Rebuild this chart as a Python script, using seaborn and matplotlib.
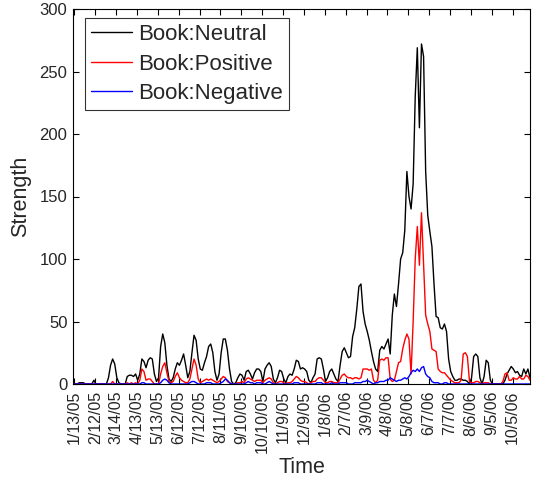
import numpy as np
import pandas as pd
import matplotlib
matplotlib.use("Agg")
import matplotlib.pyplot as plt
import seaborn as sns

start_date = "2005-01-11"
step = "3D"

neutral = [0, 0, 0, 1, 1, 1, 0, 0, 0, 0,
           3, 0, 0, 0, 0, 0, 0, 5, 15, 20,
           16, 5, 1, 0, 0, 0, 6, 7, 7, 6,
           8, 3, 8, 20, 18, 13, 19, 21, 20, 8,
           2, 5, 30, 40, 33, 15, 4, 2, 5, 12,
           17, 15, 19, 24, 15, 5, 10, 25, 39, 35,
           20, 12, 11, 17, 22, 30, 32, 25, 10, 3,
           8, 25, 36, 36, 27, 12, 2, 0, 1, 5,
           8, 7, 3, 10, 11, 8, 4, 9, 12, 12,
           10, 2, 12, 15, 17, 14, 4, 1, 5, 11,
           10, 4, 1, 6, 8, 7, 12, 19, 18, 12,
           13, 12, 10, 3, 1, 5, 8, 20, 21, 20,
           12, 2, 5, 10, 12, 8, 4, 2, 15, 26,
           29, 25, 21, 22, 38, 45, 60, 78, 80, 58,
           48, 42, 35, 26, 18, 12, 10, 27, 30, 28,
           32, 36, 24, 55, 72, 62, 80, 100, 105, 123,
           170, 150, 140, 160, 230, 269, 205, 272, 262, 170,
           135, 122, 110, 80, 54, 53, 45, 44, 48, 42,
           20, 10, 6, 3, 3, 4, 4, 3, 3, 2,
           0, 5, 22, 24, 22, 5, 0, 6, 19, 17,
           3, 0, 0, 0, 0, 0, 0, 3, 8, 11,
           14, 12, 9, 10, 7, 6, 12, 8, 12, 5]

positive = [0, 0, 0, 0, 0, 0, 0, 0, 0, 0,
            0, 0, 0, 0, 0, 0, 0, 0, 0, 2,
            0, 0, 0, 0, 0, 0, 1, 0, 1, 0,
            1, 0, 3, 12, 10, 3, 4, 4, 2, 0,
            0, 0, 8, 14, 17, 9, 2, 1, 2, 6,
            9, 5, 3, 2, 1, 1, 4, 12, 20, 15,
            4, 1, 2, 3, 4, 3, 4, 3, 2, 1,
            2, 4, 6, 5, 2, 1, 0, 0, 0, 1,
            1, 2, 1, 4, 5, 4, 3, 2, 3, 3,
            3, 1, 3, 4, 5, 4, 1, 0, 1, 2,
            2, 1, 0, 1, 1, 2, 4, 6, 5, 3,
            2, 2, 1, 0, 1, 2, 2, 4, 5, 5,
            3, 1, 1, 2, 2, 1, 1, 1, 4, 7,
            8, 6, 5, 5, 4, 5, 5, 4, 5, 12,
            12, 12, 11, 12, 3, 1, 3, 19, 20, 19,
            21, 21, 4, 2, 3, 10, 17, 18, 28, 35,
            40, 36, 8, 50, 100, 126, 95, 137, 95, 55,
            48, 42, 28, 27, 26, 12, 10, 9, 9, 7,
            5, 3, 2, 1, 1, 1, 3, 24, 25, 22,
            2, 1, 1, 2, 2, 1, 0, 1, 1, 1,
            0, 0, 0, 0, 0, 0, 2, 8, 9, 3,
            3, 5, 4, 4, 6, 4, 4, 7, 6, 3]

negative = [0, 0, 0, 0, 0, 0, 0, 0, 0, 0,
            0, 0, 0, 0, 0, 0, 0, 0, 0, 0,
            0, 0, 0, 0, 0, 0, 0, 0, 0, 0,
            0, 0, 0, 1, 1, 0, 0, 0, 0, 0,
            0, 0, 1, 3, 4, 3, 1, 0, 0, 0,
            0, 0, 0, 0, 0, 0, 1, 2, 2, 1,
            0, 0, 0, 0, 1, 1, 1, 0, 0, 0,
            0, 1, 2, 4, 3, 1, 0, 0, 0, 0,
            0, 0, 0, 1, 2, 1, 1, 0, 1, 1,
            1, 0, 0, 1, 2, 1, 0, 0, 0, 0,
            0, 0, 0, 0, 0, 0, 1, 1, 1, 0,
            0, 0, 0, 0, 0, 0, 0, 1, 1, 1,
            0, 0, 0, 0, 1, 0, 0, 0, 1, 1,
            1, 1, 0, 0, 0, 1, 1, 1, 1, 2,
            2, 3, 2, 1, 0, 1, 1, 2, 2, 2,
            3, 3, 5, 4, 3, 2, 3, 3, 4, 5,
            4, 6, 9, 11, 10, 12, 10, 13, 14, 8,
            6, 5, 2, 1, 1, 1, 0, 0, 1, 1,
            0, 0, 0, 0, 0, 0, 0, 0, 0, 0,
            0, 0, 0, 0, 0, 0, 0, 0, 0, 0,
            0, 0, 0, 0, 0, 0, 0, 0, 0, 0,
            0, 0, 0, 0, 0, 0, 0, 0, 0, 0]

series_names = ["Book:Neutral", "Book:Positive", "Book:Negative"]
series_colors = ["#000000", "#ff0000", "#0000ff"]

tick_labels = ["1/13/05", "2/12/05", "3/14/05", "4/13/05", "5/13/05", "6/12/05",
               "7/12/05", "8/11/05", "9/10/05", "10/10/05", "11/9/05", "12/9/05",
               "1/8/06", "2/7/06", "3/9/06", "4/8/06", "5/8/06", "6/7/06",
               "7/7/06", "8/6/06", "9/5/06", "10/5/06"]

y_ticks = [0, 50, 100, 150, 200, 250, 300]

# ---- build table ----
dates = pd.date_range(start_date, periods=len(neutral), freq=step)
frames = []
for name, vals in zip(series_names, [neutral, positive, negative]):
    frames.append(pd.DataFrame({"Time": dates, "Strength": vals, "Series": name}))
df = pd.concat(frames, ignore_index=True)

sns.set_style("white")
plt.rcParams["font.family"] = ["Liberation Sans", "DejaVu Sans"]

fig = plt.figure(figsize=(5.38, 4.83), dpi=100)
ax = fig.add_axes([73 / 538, 1 - 384 / 483, 457 / 538, 375 / 483])

sns.lineplot(data=df, x="Time", y="Strength", hue="Series",
             palette=dict(zip(series_names, series_colors)),
             hue_order=series_names, linewidth=1.0, ax=ax, legend=False)

ax.set_xlim(dates[0], dates[-1])
ax.set_ylim(0, 300)
tick_dates = pd.to_datetime(tick_labels, format="%m/%d/%y")
ax.set_xticks(tick_dates)
ax.set_xticklabels(tick_labels, rotation=90, fontsize=11.5)
ax.set_yticks(y_ticks)
ax.set_yticklabels([str(v) for v in y_ticks], fontsize=12)
ax.tick_params(direction="in", length=4, width=0.8, top=True, right=True,
               bottom=True, left=True, color="black")
ax.tick_params(axis="x", pad=5)
ax.tick_params(axis="y", pad=4)
for s in ax.spines.values():
    s.set_color("black")
    s.set_linewidth(0.8)

ax.set_xlabel("Time", fontsize=15.5, labelpad=3)
ax.set_ylabel("Strength", fontsize=15.5, labelpad=6)

handles = [plt.Line2D([], [], color=c, lw=1.0) for c in series_colors]
leg = ax.legend(handles, series_names, loc="upper left",
                bbox_to_anchor=(12 / 457, 1 - 9 / 375), borderaxespad=0,
                fontsize=16, frameon=True, fancybox=False, handlelength=1.85,
                handletextpad=0.25, labelspacing=0.38, borderpad=0.28)
leg.get_frame().set_edgecolor("black")
leg.get_frame().set_linewidth(0.8)

fig.savefig("out.png", dpi=100, facecolor="white")
